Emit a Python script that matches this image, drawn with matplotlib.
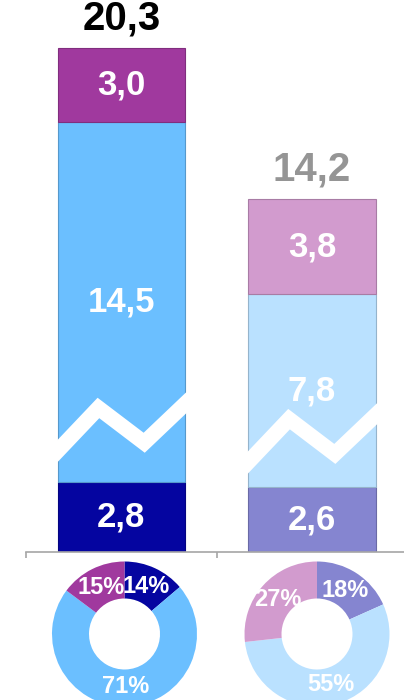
import matplotlib
matplotlib.use("Agg")
import matplotlib.pyplot as plt
import numpy as np

# ---- data ----
categories = ["A", "B"]
bottom_vals = [2.8, 2.6]
middle_vals = [14.5, 7.8]
top_vals = [3.0, 3.8]
totals = [20.3, 14.2]
total_labels = ["20,3", "14,2"]
total_colors = ["#000000", "#959595"]

bottom_colors = ["#0505A0", "#8585D0"]
middle_colors = ["#6BBFFF", "#BAE1FF"]
top_colors = ["#A0399E", "#D29BCE"]

# zigzag "break" decoration (data units of y, fractions of bar width)
break_base = [3.9, 3.45]
break_shape_x = [-0.06, 0.32, 0.68, 1.06]
break_shape_dy = [-0.15, 1.9, 0.5, 2.35]

def fmt(v):
    return f"{v:.1f}".replace(".", ",")

def darker(c, f=0.85):
    r, g, b = matplotlib.colors.to_rgb(c)
    return (r * f, g * f, b * f)

plt.rcParams['font.family'] = ['Liberation Sans', 'DejaVu Sans']

W, H = 404, 700
fig = plt.figure(figsize=(W / 100, H / 100), dpi=100)

# bar axes: x from px 26 to 404, y from px 0 to 552
ax = fig.add_axes([26 / W, (H - 552) / H, (W - 26) / W, 552 / H])
x = np.arange(len(categories))
bw = 0.667
ax.set_xlim(-0.5, 1.483)
ax.set_ylim(0, 22.23)

for i in range(len(categories)):
    b0 = 0
    for vals, cols in ((bottom_vals, bottom_colors), (middle_vals, middle_colors), (top_vals, top_colors)):
        v = vals[i]
        ax.bar(x[i], v, bw, bottom=b0, color=cols[i], edgecolor=darker(cols[i], 0.8),
               linewidth=0.8, zorder=2)
        ax.text(x[i], b0 + v / 2, fmt(v), ha="center", va="center", color="white",
                fontsize=25, fontweight="bold", zorder=5)
        b0 += v
    ax.text(x[i], totals[i] + 0.42, total_labels[i], ha="center", va="bottom",
            color=total_colors[i], fontsize=29, fontweight="bold")
    # zigzag break
    left = x[i] - bw / 2
    zx = [left + f * bw for f in break_shape_x]
    zy = [break_base[i] + d for d in break_shape_dy]
    ax.plot(zx, zy, color="white", linewidth=11, solid_joinstyle="miter",
            solid_capstyle="butt", zorder=4)

for s in ["top", "right", "left"]:
    ax.spines[s].set_visible(False)
ax.spines["bottom"].set_color("#A6A6A6")
ax.spines["bottom"].set_linewidth(1.2)
ax.set_yticks([])
ax.set_xticks([-0.5, 0.5])
ax.set_xticklabels([])
ax.tick_params(axis="x", direction="out", length=4, color="#A6A6A6", width=1.2)

# donuts
centers_px = [(124.5, 634), (317, 634)]
R = 72.5
half = 76
for i in range(len(categories)):
    cx, cy = centers_px[i]
    dax = fig.add_axes([(cx - half) / W, (H - cy - half) / H, 2 * half / W, 2 * half / H])
    vals = [bottom_vals[i], middle_vals[i], top_vals[i]]
    cols = [bottom_colors[i], middle_colors[i], top_colors[i]]
    wedges, texts, autotexts = dax.pie(
        vals, colors=cols, startangle=90, counterclock=False, radius=R,
        autopct="%.0f%%", pctdistance=0.72,
        wedgeprops=dict(width=37, edgecolor="none"),
        textprops=dict(color="white", fontsize=17, fontweight="bold"))
    dax.set_xlim(-half, half)
    dax.set_ylim(-half, half)
    dax.set_aspect("equal")
    dax.axis("off")

fig.savefig("out.png", dpi=100)
